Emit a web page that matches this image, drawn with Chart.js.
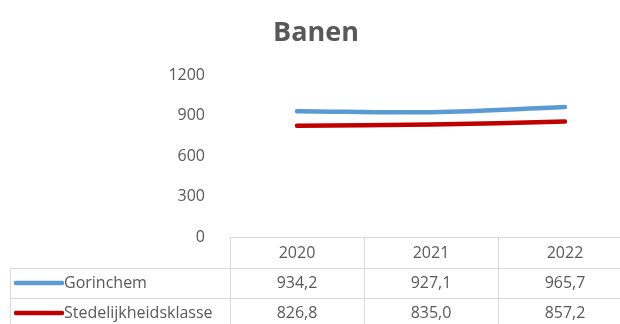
<!DOCTYPE html>
<html>
<head>
<meta charset="utf-8">
<script src="https://cdn.jsdelivr.net/npm/chart.js@4.4.1/dist/chart.umd.min.js"></script>
<style>
  html, body { margin: 0; padding: 0; background: #fff; overflow: hidden; }
  #wrap { width: 632px; height: 324px; }
</style>
</head>
<body>
<div id="wrap"><canvas id="chart" width="632" height="324"></canvas></div>
<script>
const years = ['2020', '2021', '2022'];
const gorinchem = [934.2, 927.1, 965.7];
const stedelijkheidsklasse = [826.8, 835.0, 857.2];
const seriesNames = ['Gorinchem', 'Stedelijkheidsklasse'];
const seriesColors = ['#5B9BD5', '#C00000'];
const yMin = 0, yMax = 1200, yStep = 300;

const textColor = '#595959';
const lineColor = '#D9D9D9';
const fontFamily = '"Open Sans", sans-serif';

const fmt = v => v.toFixed(1).replace('.', ',');

// Data table under the plot, columns follow the x scale
const dataTable = {
  id: 'dataTable',
  afterDraw(chart) {
    const ctx = chart.ctx;
    const x = chart.scales.x;
    const area = chart.chartArea;
    const colW = x.getPixelForValue(1) - x.getPixelForValue(0);
    const left = x.getPixelForValue(0) - colW / 2;
    const right = x.getPixelForValue(years.length - 1) + colW / 2;
    const tableLeft = 10;
    const top = area.bottom;
    const rowTops = [top, top + 31, top + 61, top + 91];

    ctx.save();
    ctx.strokeStyle = lineColor;
    ctx.lineWidth = 1;
    ctx.beginPath();
    ctx.moveTo(left, Math.round(top) + 0.5);
    ctx.lineTo(right, Math.round(top) + 0.5);
    for (let r = 1; r < rowTops.length; r++) {
      ctx.moveTo(tableLeft, Math.round(rowTops[r]) + 0.5);
      ctx.lineTo(right, Math.round(rowTops[r]) + 0.5);
    }
    ctx.moveTo(tableLeft + 0.5, rowTops[1]);
    ctx.lineTo(tableLeft + 0.5, rowTops[3]);
    for (let c = 0; c <= years.length; c++) {
      const cx = Math.round(left + c * colW) + 0.5;
      ctx.moveTo(cx, top);
      ctx.lineTo(cx, rowTops[3]);
    }
    ctx.stroke();

    ctx.fillStyle = textColor;
    ctx.font = '16px ' + fontFamily;
    ctx.textAlign = 'center';
    ctx.textBaseline = 'middle';
    years.forEach((y, i) => {
      ctx.fillText(y, x.getPixelForValue(i), (rowTops[0] + rowTops[1]) / 2 + 1);
    });

    chart.data.datasets.forEach((ds, r) => {
      const cy = (rowTops[r + 1] + rowTops[r + 2]) / 2;
      ds.data.forEach((v, i) => {
        ctx.textAlign = 'center';
        ctx.fillText(fmt(v), x.getPixelForValue(i), cy);
      });
      ctx.strokeStyle = ds.borderColor;
      ctx.lineWidth = 4.5;
      ctx.lineCap = 'round';
      ctx.beginPath();
      ctx.moveTo(16, cy);
      ctx.lineTo(62, cy);
      ctx.stroke();
      ctx.textAlign = 'left';
      ctx.fillText(ds.label, 64, cy);
    });
    ctx.restore();
  }
};

new Chart(document.getElementById('chart'), {
  type: 'line',
  data: {
    labels: years,
    datasets: [
      {
        label: seriesNames[0],
        data: gorinchem,
        borderColor: seriesColors[0],
        borderWidth: 4.5,
        tension: 0.4,
        pointRadius: 0,
        borderCapStyle: 'round',
        fill: false,
      },
      {
        label: seriesNames[1],
        data: stedelijkheidsklasse,
        borderColor: seriesColors[1],
        borderWidth: 4.5,
        tension: 0.4,
        pointRadius: 0,
        borderCapStyle: 'round',
        fill: false,
      },
    ],
  },
  options: {
    responsive: false,
    animation: false,
    layout: { padding: { left: 0, right: 0, bottom: 87 } },
    plugins: {
      legend: { display: false },
      tooltip: { enabled: false },
      title: {
        display: true,
        text: 'Banen',
        color: textColor,
        font: { family: fontFamily, size: 27, weight: 'bold' },
        padding: { top: 17, bottom: 26 },
      },
    },
    scales: {
      x: {
        display: false,
        offset: true,
      },
      y: {
        min: yMin,
        max: yMax,
        afterFit(scale) { scale.width = 230; },
        grid: { display: false },
        border: { display: false },
        ticks: {
          stepSize: yStep,
          padding: 17,
          color: textColor,
          font: { family: fontFamily, size: 16 },
          callback: v => String(v),
        },
      },
    },
  },
  plugins: [dataTable],
});
</script>
</body>
</html>
